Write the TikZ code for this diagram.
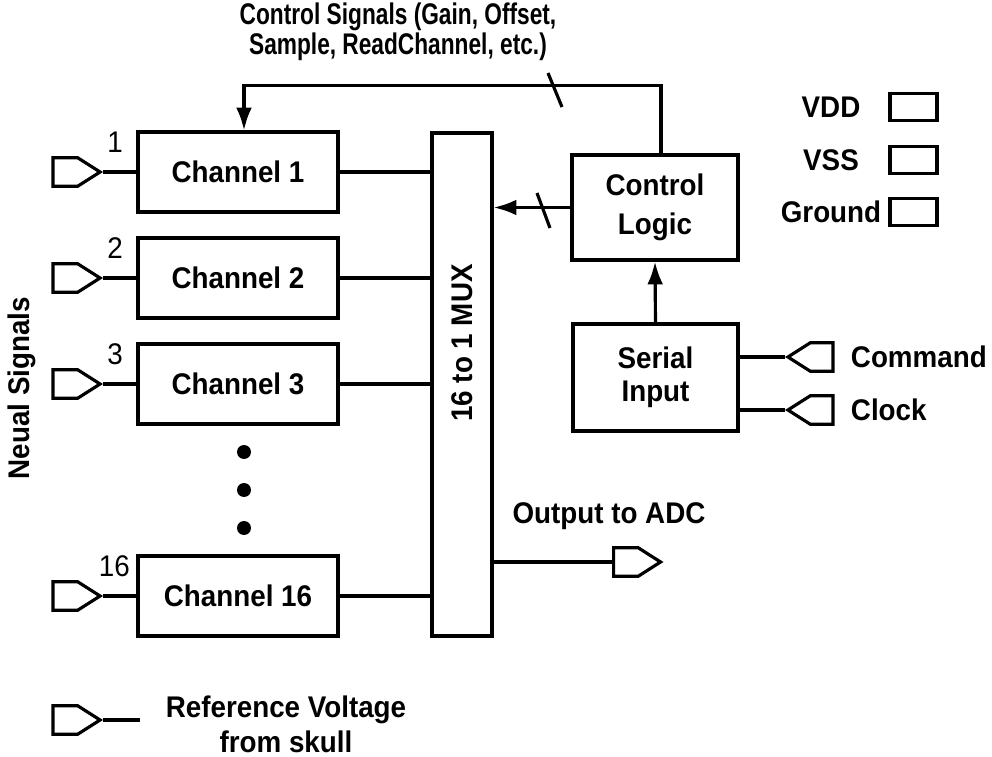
\documentclass[tikz,border=0pt]{standalone}
\usepackage{fontspec}
\setmainfont{Liberation Sans}[FakeStretch=0.93]
\newfontfamily\narrowsans[FakeStretch=0.76]{Liberation Sans}
\usetikzlibrary{arrows.meta, shapes.symbols}

\begin{document}
\begin{tikzpicture}[x=0.02cm, y=-0.02cm, line width=1.8pt, >={Latex[length=13pt, width=9pt]},
    block/.style={draw, minimum width=4cm, minimum height=1.6cm, align=center, font=\bfseries\fontsize{17}{19}\selectfont},
    pin/.style={draw, signal, signal from=nowhere, signal pointer angle=65, minimum width=0.94cm, minimum height=0.57cm, inner sep=0pt},
    lbl/.style={font=\bfseries\fontsize{17}{19}\selectfont, align=center},
    num/.style={font=\fontsize{17}{19}\selectfont, inner sep=0pt}]
    \useasboundingbox (0,0) rectangle (992,757);

    % 1. Multiplexer
    \node[draw, minimum width=1.2cm, minimum height=10.06cm] (mux) at (462,384.5) {};
    \node[lbl, rotate=90] (muxtext) at (462,343) {16 to 1 MUX};

    % 2. Channels and input pins
    \foreach \i/\yy/\dx in {1/172/-0.24, 2/278/-0.24, 3/384/-0.24, 16/596/-0.1} {
        \node[block] (ch\i) at (238,\yy) {Channel \i};
        \node[pin, signal to=east, anchor=east] (in\i) at (103,\yy) {};
        \node[num, anchor=north east] (num\i) at ([xshift=\dx cm]ch\i.north west) {\i};
        \draw (in\i.east) -- (ch\i.west);
        \draw (ch\i.east) -- (ch\i.east -| mux.west);
    }
    \foreach \yy in {452, 490, 528}
        \fill (244,\yy) circle (0.14cm);

    % 3. Control logic and serial input
    \node[block, minimum width=3.32cm, minimum height=2.1cm] (ctrl) at (655,207.5) {Control\\[3pt]Logic};
    \node[block, minimum width=3.3cm, minimum height=2.14cm] (serial) at (655.5,377.5) {Serial\\Input};
    \draw[->] (serial.north) -- (ctrl.south);
    \draw[->] (ctrl.west) -- (ctrl.west -| mux.east);
    \draw[->] ([xshift=0.12cm]ctrl.north) -- ++(0,-68) -| ([xshift=0.12cm]ch1.north);
    \draw (537,193) -- (550,228);
    \draw (548,73) -- (562,107);
    \node[font=\narrowsans\bfseries\fontsize{17}{17}\selectfont, align=center] (ctrltext) at (398,32)
        {Control Signals (Gain, Offset,\\Sample, ReadChannel, etc.)};

    % 4. Command and clock pins
    \node[pin, signal to=west, anchor=west, minimum width=0.9cm] (cmd) at (785,357) {};
    \node[pin, signal to=west, anchor=west, minimum width=0.9cm] (clk) at (785,410) {};
    \draw (cmd.west) -- (cmd.west -| serial.east);
    \draw (clk.west) -- (clk.west -| serial.east);
    \node[lbl, anchor=west] (cmdlabel) at ([xshift=0.18cm]cmd.east) {Command};
    \node[lbl, anchor=west] (clklabel) at ([xshift=0.18cm]clk.east) {Clock};

    % 5. Output to ADC
    \node[pin, signal to=east, anchor=west] (adc) at (612,562) {};
    \draw (adc.west) -- (adc.west -| mux.east);
    \node[lbl] (adclabel) at (609,516) {Output to ADC};

    % 6. Power pads
    \foreach \name/\yy in {VDD/107, VSS/160, Ground/212} {
        \node[draw, minimum width=0.94cm, minimum height=0.54cm, inner sep=0pt] (pad\name) at (913.5,\yy) {};
        \node[lbl] (label\name) at (831,\yy) {\name};
    }

    % 7. Reference voltage and side label
    \node[pin, signal to=east, anchor=east] (ref) at (103,720) {};
    \coordinate (refend) at (140,720);
    \draw (ref.east) -- (refend);
    \node[lbl, font=\bfseries\fontsize{17}{20}\selectfont] (reflabel) at (286,724) {Reference Voltage\\from skull};
    \node[lbl, rotate=90] (neual) at (22,388) {Neual Signals};
\end{tikzpicture}
\end{document}
